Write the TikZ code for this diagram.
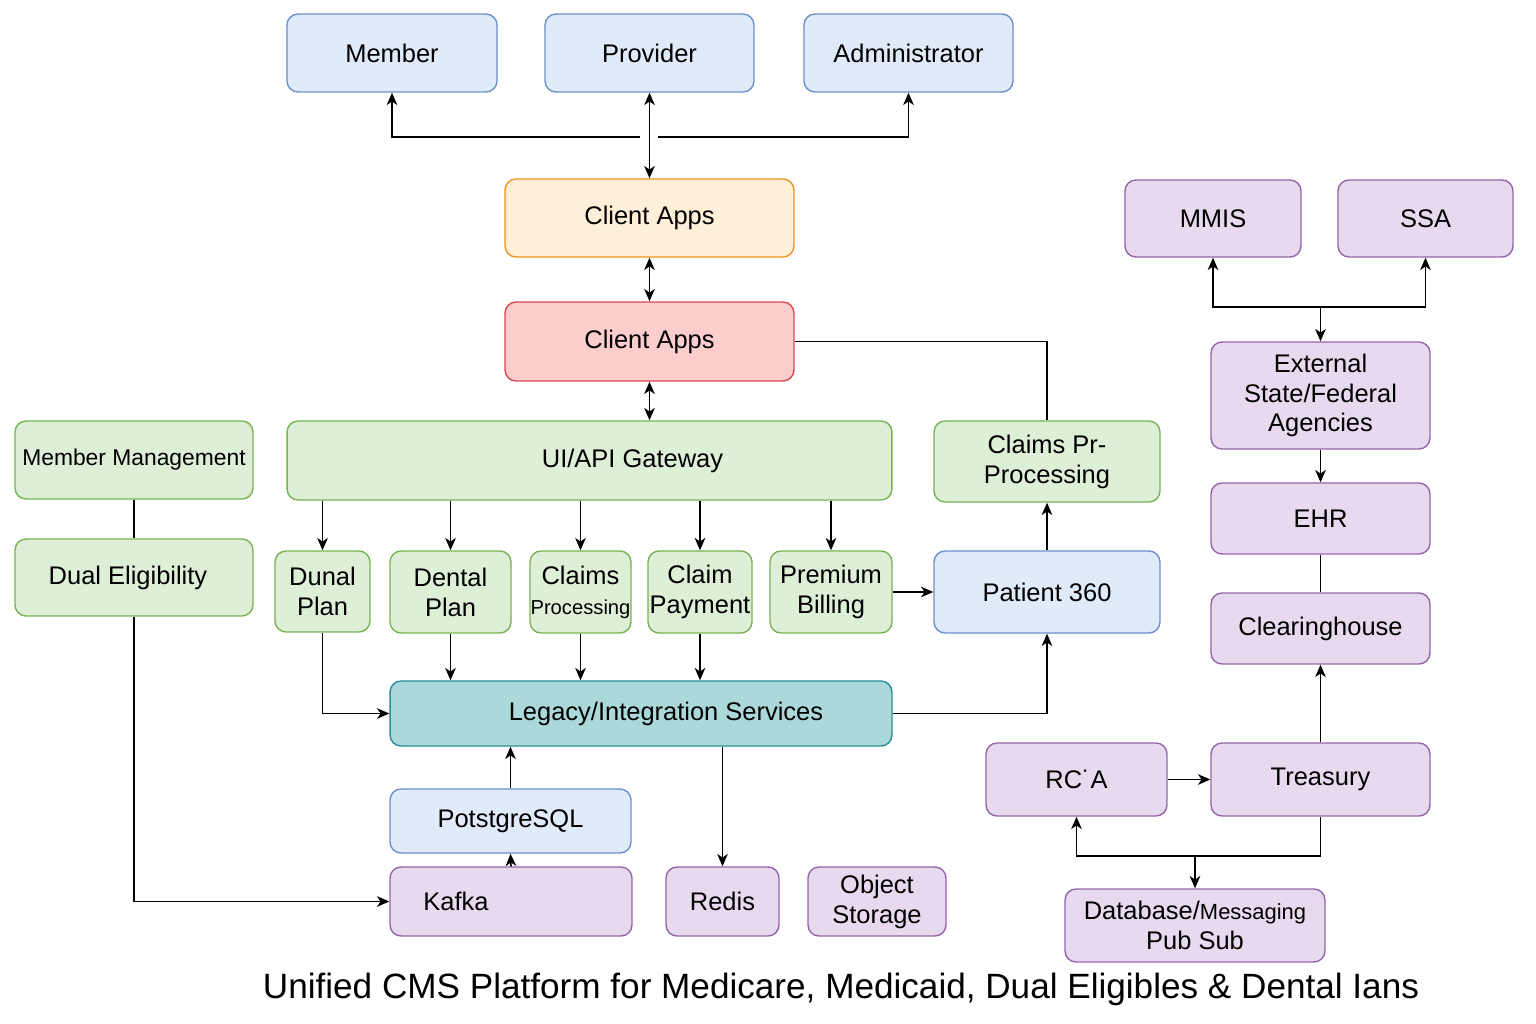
\documentclass[tikz,border=0pt]{standalone}
\usepackage{fontspec}
\setmainfont{Liberation Sans}
\usetikzlibrary{arrows.meta}
\definecolor{bluefill}{HTML}{E0EBFA}
\definecolor{blueline}{HTML}{6A8FCB}
\definecolor{orfill}{HTML}{FFEFD8}
\definecolor{orline}{HTML}{F0921E}
\definecolor{redfill}{HTML}{FBCDCD}
\definecolor{redline}{HTML}{D9484E}
\definecolor{grfill}{HTML}{DEEFD8}
\definecolor{grline}{HTML}{76B453}
\definecolor{tlfill}{HTML}{ABD9DA}
\definecolor{tlline}{HTML}{2A8C9C}
\definecolor{pufill}{HTML}{E8DAEE}
\definecolor{puline}{HTML}{9464AA}
\begin{document}
\begin{tikzpicture}[x=0.02cm,y=-0.02cm,>={Stealth[length=7pt,width=6pt,inset=2pt]},
	box/.style={draw,rounded corners=0.22cm,line width=0.8pt,align=center,inner sep=2pt,
		font=\fontsize{14.5}{17}\selectfont},
	bluebox/.style={box,fill=bluefill,draw=blueline},
	orbox/.style={box,fill=orfill,draw=orline},
	redbox/.style={box,fill=redfill,draw=redline},
	grbox/.style={box,fill=grfill,draw=grline},
	tlbox/.style={box,fill=tlfill,draw=tlline},
	pubox/.style={box,fill=pufill,draw=puline},
	conn/.style={line width=0.9pt},
	]
				\useasboundingbox (0,0) rectangle (1536,1024);
				% users
				\node[bluebox,minimum width=4.2cm,minimum height=1.56cm] (member) at (392,53) {Member};
				\node[bluebox,minimum width=4.18cm,minimum height=1.56cm] (provider) at (649.5,53) {Provider};
				\node[bluebox,minimum width=4.18cm,minimum height=1.56cm] (admin) at (908.5,53) {Administrator};
				% front end
				\node[orbox,minimum width=5.78cm,minimum height=1.56cm] (apps) at (649.5,218) {Client Apps};
				\node[redbox,minimum width=5.78cm,minimum height=1.58cm] (front) at (649.5,341.5) {Client Apps};
				\node[grbox,minimum width=12.1cm,minimum height=1.58cm] (gateway) at (589.5,460.5) {\hspace*{1.72cm}UI/API Gateway};
				\node[grbox,minimum width=4.76cm,minimum height=1.56cm,font=\fontsize{13}{16}\selectfont] (mgmt) at (134,460) {Member Management};
				\node[grbox,minimum width=4.76cm,minimum height=1.54cm] (dual) at (134,577.5) {Dual Eligibility\hspace*{0.24cm}};
				\node[grbox,minimum width=4.52cm,minimum height=1.62cm] (preproc) at (1047,461.5) {Claims Pr-\\Processing};
				% services
				\node[grbox,minimum width=1.9cm,minimum height=1.62cm] (dunal) at (322.5,591.5) {Dunal\\Plan};
				\node[grbox,minimum width=2.42cm,minimum height=1.64cm] (dental) at (450.5,592) {Dental\\Plan};
				\node[grbox,minimum width=2.02cm,minimum height=1.64cm,inner sep=0pt] (claims) at (580.5,592) {Claims\\{\fontsize{11.5}{14}\selectfont Processing}};
				\node[grbox,minimum width=2.08cm,minimum height=1.64cm,inner sep=0pt] (payment) at (700,592) {Claim\\Payment};
				\node[grbox,minimum width=2.44cm,minimum height=1.64cm] (premium) at (831,592) {Premium\\Billing};
				\node[bluebox,minimum width=4.52cm,minimum height=1.64cm] (p360) at (1047,592) {Patient 360};
				\node[tlbox,minimum width=10.04cm,minimum height=1.3cm] (legacy) at (641,713.5) {\hspace*{1cm}Legacy/Integration Services};
				% data
				\node[bluebox,minimum width=4.82cm,minimum height=1.28cm] (pg) at (510.5,821) {PotstgreSQL};
				\node[pubox,minimum width=4.84cm,minimum height=1.38cm] (kafka) at (511,901.5) {Kafka\hspace*{2.2cm}};
				\node[pubox,minimum width=2.26cm,minimum height=1.38cm] (redis) at (722.5,901.5) {Redis};
				\node[pubox,minimum width=2.76cm,minimum height=1.38cm] (objstore) at (877,901.5) {Object\\Storage};
				% external
				\node[pubox,minimum width=3.52cm,minimum height=1.54cm] (mmis) at (1213,218.5) {MMIS};
				\node[pubox,minimum width=3.5cm,minimum height=1.54cm] (ssa) at (1425.5,218.5) {SSA};
				\node[pubox,minimum width=4.38cm,minimum height=2.14cm] (ext) at (1320.5,395.5) {External\\State/Federal\\Agencies};
				\node[pubox,minimum width=4.38cm,minimum height=1.42cm] (ehr) at (1320.5,518.5) {EHR};
				\node[pubox,minimum width=4.38cm,minimum height=1.42cm] (clear) at (1320.5,628.5) {Clearinghouse};
				\node[pubox,minimum width=3.62cm,minimum height=1.46cm] (rca) at (1076.5,779.5) {RC˙A};
				\node[pubox,minimum width=4.38cm,minimum height=1.46cm] (treasury) at (1320.5,779.5) {Treasury};
				\node[pubox,minimum width=5.2cm,minimum height=1.46cm] (db) at (1195,925.5) {Database/{\fontsize{12.5}{15}\selectfont Messaging}\\Pub Sub};
				\node[font=\fontsize{20}{24}\selectfont] (title) at (841,989) {Unified CMS Platform for Medicare, Medicaid, Dual Eligibles \& Dental Ians};
				% connectors
				\coordinate (tl) at (640,137);
				\coordinate (tr) at (658,137);
				\coordinate (ag) at (1320.5,307);
				\coordinate (tj) at (1195,856);
				\draw[conn,<->] (apps.north) -- (provider.south);
				\draw[conn,->] (tl) -| (member.south);
				\draw[conn,->] (tr) -| (admin.south);
				\draw[conn,<->] (apps.south) -- (front.north);
				\draw[conn,<->] (front.south) -- (front.south |- gateway.north);
				\draw[conn] (front.east) -| (preproc.north);
				\draw[conn] (mgmt) -- (dual);
				\draw[conn,->] (dual.south) |- (kafka.west);
				\foreach \n in {dunal,dental,claims,payment,premium}{
					\draw[conn,->] (gateway.south -| \n.north) -- (\n.north);
				}
				\draw[conn,->] (dunal.south) |- (legacy.west);
				\foreach \n in {dental,claims,payment}{
					\draw[conn,->] (\n.south) -- (\n.south |- legacy.north);
				}
				\draw[conn,->] (premium.east) -- (p360.west);
				\draw[conn,->] (legacy.east) -| (p360.south);
				\draw[conn,->] (p360.north) -- (preproc.south);
				\draw[conn,->] (pg.north) -- (pg.north |- legacy.south);
				\draw[conn,->] (kafka.north) -- (pg.south);
				\draw[conn,->] (legacy.south -| redis.north) -- (redis.north);
				\draw[conn,->] (ag) -| (mmis.south);
				\draw[conn,->] (ag) -| (ssa.south);
				\draw[conn,->] (ag) -- (ext.north);
				\draw[conn,->] (ext) -- (ehr);
				\draw[conn] (ehr) -- (clear);
				\draw[conn,->] (treasury) -- (clear);
				\draw[conn,->] (rca) -- (treasury);
				\draw[conn,->] (treasury.south) |- (tj) -| (rca.south);
				\draw[conn,->] (tj) -- (db.north);
			\end{tikzpicture}
\end{document}
